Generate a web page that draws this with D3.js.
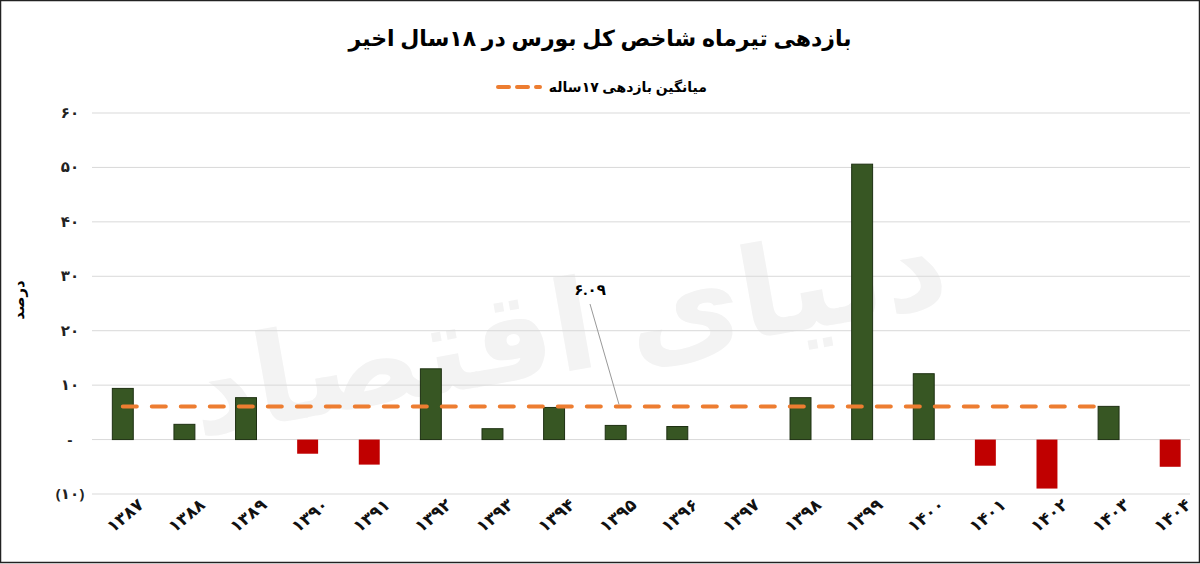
<!DOCTYPE html>
<html><head><meta charset="utf-8">
<script src="https://cdn.jsdelivr.net/npm/d3@7.9.0/dist/d3.min.js"></script>
<style>body{margin:0;background:#fff}svg{display:block;font-family:"Noto Sans","DejaVu Sans",sans-serif}</style>
</head><body><svg id="c" width="1200" height="564"></svg>
<script>
// years and July returns (percent)
const years = ['۱۳۸۷','۱۳۸۸','۱۳۸۹','۱۳۹۰','۱۳۹۱','۱۳۹۲','۱۳۹۳','۱۳۹۴','۱۳۹۵','۱۳۹۶','۱۳۹۷','۱۳۹۸','۱۳۹۹','۱۴۰۰','۱۴۰۱','۱۴۰۲','۱۴۰۳','۱۴۰۴'];
const returns = [9.4, 2.8, 7.7, -2.6, -4.6, 13.0, 2.0, 5.9, 2.6, 2.4, 0, 7.7, 50.6, 12.1, -4.8, -9.0, 6.1, -5.0];
const avg = 6.09;
const yTicks = [-10, 0, 10, 20, 30, 40, 50, 60];
const yTickLabels = ['(۱۰)', '-', '۱۰', '۲۰', '۳۰', '۴۰', '۵۰', '۶۰'];

const svg = d3.select('#c');
const x = d3.scaleBand().domain(years).range([92, 1201]).paddingInner(0.66).paddingOuter(0.33);
const y = d3.scaleLinear().domain([-10, 60]).range([494, 113]);

// frame
svg.append('rect').attr('x', 0.5).attr('y', 0.5).attr('width', 1199).attr('height', 562)
  .attr('fill', 'none').attr('stroke', '#222').attr('stroke-width', 1.5);

// watermark
svg.append('text').attr('x', 575).attr('y', 370).attr('text-anchor', 'middle')
  .attr('transform', 'rotate(-10,575,370)')
  .attr('font-size', 125).attr('font-weight', 'bold').attr('fill', '#f3f3f3')
  .text('دنیای اقتصاد');

// grid
svg.append('g').selectAll('line').data(yTicks).join('line')
  .attr('x1', 92).attr('x2', 1190).attr('y1', d => y(d)).attr('y2', d => y(d))
  .attr('stroke', '#d9d9d9');

// y labels
svg.append('g').selectAll('text').data(yTicks).join('text')
  .attr('x', 70).attr('y', d => y(d) + 5).attr('text-anchor', 'middle')
  .attr('font-size', 15).attr('font-weight', 'bold').attr('fill', '#222')
  .text((d, i) => yTickLabels[i]);

svg.append('text').attr('transform', 'translate(24,300) rotate(-90)')
  .attr('text-anchor', 'middle').attr('font-size', 15).attr('font-weight', 'bold').text('درصد');

// bars
svg.append('g').selectAll('rect').data(returns).join('rect')
  .attr('x', (d, i) => x(years[i])).attr('width', x.bandwidth())
  .attr('y', d => y(Math.max(0, d))).attr('height', d => Math.abs(y(d) - y(0)))
  .attr('fill', d => d >= 0 ? '#375623' : '#c00000')
  .attr('stroke', d => d >= 0 ? '#1e3012' : 'none').attr('stroke-width', 1);

// average line
svg.append('line').attr('x1', x(years[0]) + x.bandwidth() / 2).attr('x2', x(years[16]) + x.bandwidth() / 2)
  .attr('y1', y(avg)).attr('y2', y(avg))
  .attr('stroke', '#ed7d31').attr('stroke-width', 4).attr('stroke-dasharray', '14,15').attr('stroke-linecap', 'round');

// annotation
svg.append('line').attr('x1', 590).attr('y1', 304).attr('x2', 619).attr('y2', y(avg) - 2)
  .attr('stroke', '#999').attr('stroke-width', 1);
svg.append('text').attr('x', 590).attr('y', 295).attr('text-anchor', 'middle')
  .attr('font-size', 15).attr('font-weight', 'bold').text('۶.۰۹');

// x labels
svg.append('g').selectAll('text').data(years).join('text')
  .attr('transform', d => `translate(${x(d) + x.bandwidth() / 2 + 6},520) rotate(-40)`)
  .attr('text-anchor', 'middle').attr('font-size', 17).attr('font-weight', 'bold').attr('fill', '#111')
  .text(d => d);

// title
svg.append('text').attr('x', 600).attr('y', 46).attr('text-anchor', 'middle')
  .attr('font-size', 22).attr('font-weight', 'bold').attr('direction', 'rtl')
  .text('بازدهی تیرماه شاخص کل بورس در ۱۸سال اخیر');

// legend
svg.append('line').attr('x1', 498).attr('x2', 540).attr('y1', 87).attr('y2', 87)
  .attr('stroke', '#ed7d31').attr('stroke-width', 4).attr('stroke-dasharray', '11,8').attr('stroke-linecap', 'round');
svg.append('text').attr('x', 707).attr('y', 92).attr('text-anchor', 'end')
  .attr('font-size', 14).attr('font-weight', 'bold').attr('direction', 'ltr')
  .text('میانگین بازدهی ۱۷ساله');
</script></body></html>
